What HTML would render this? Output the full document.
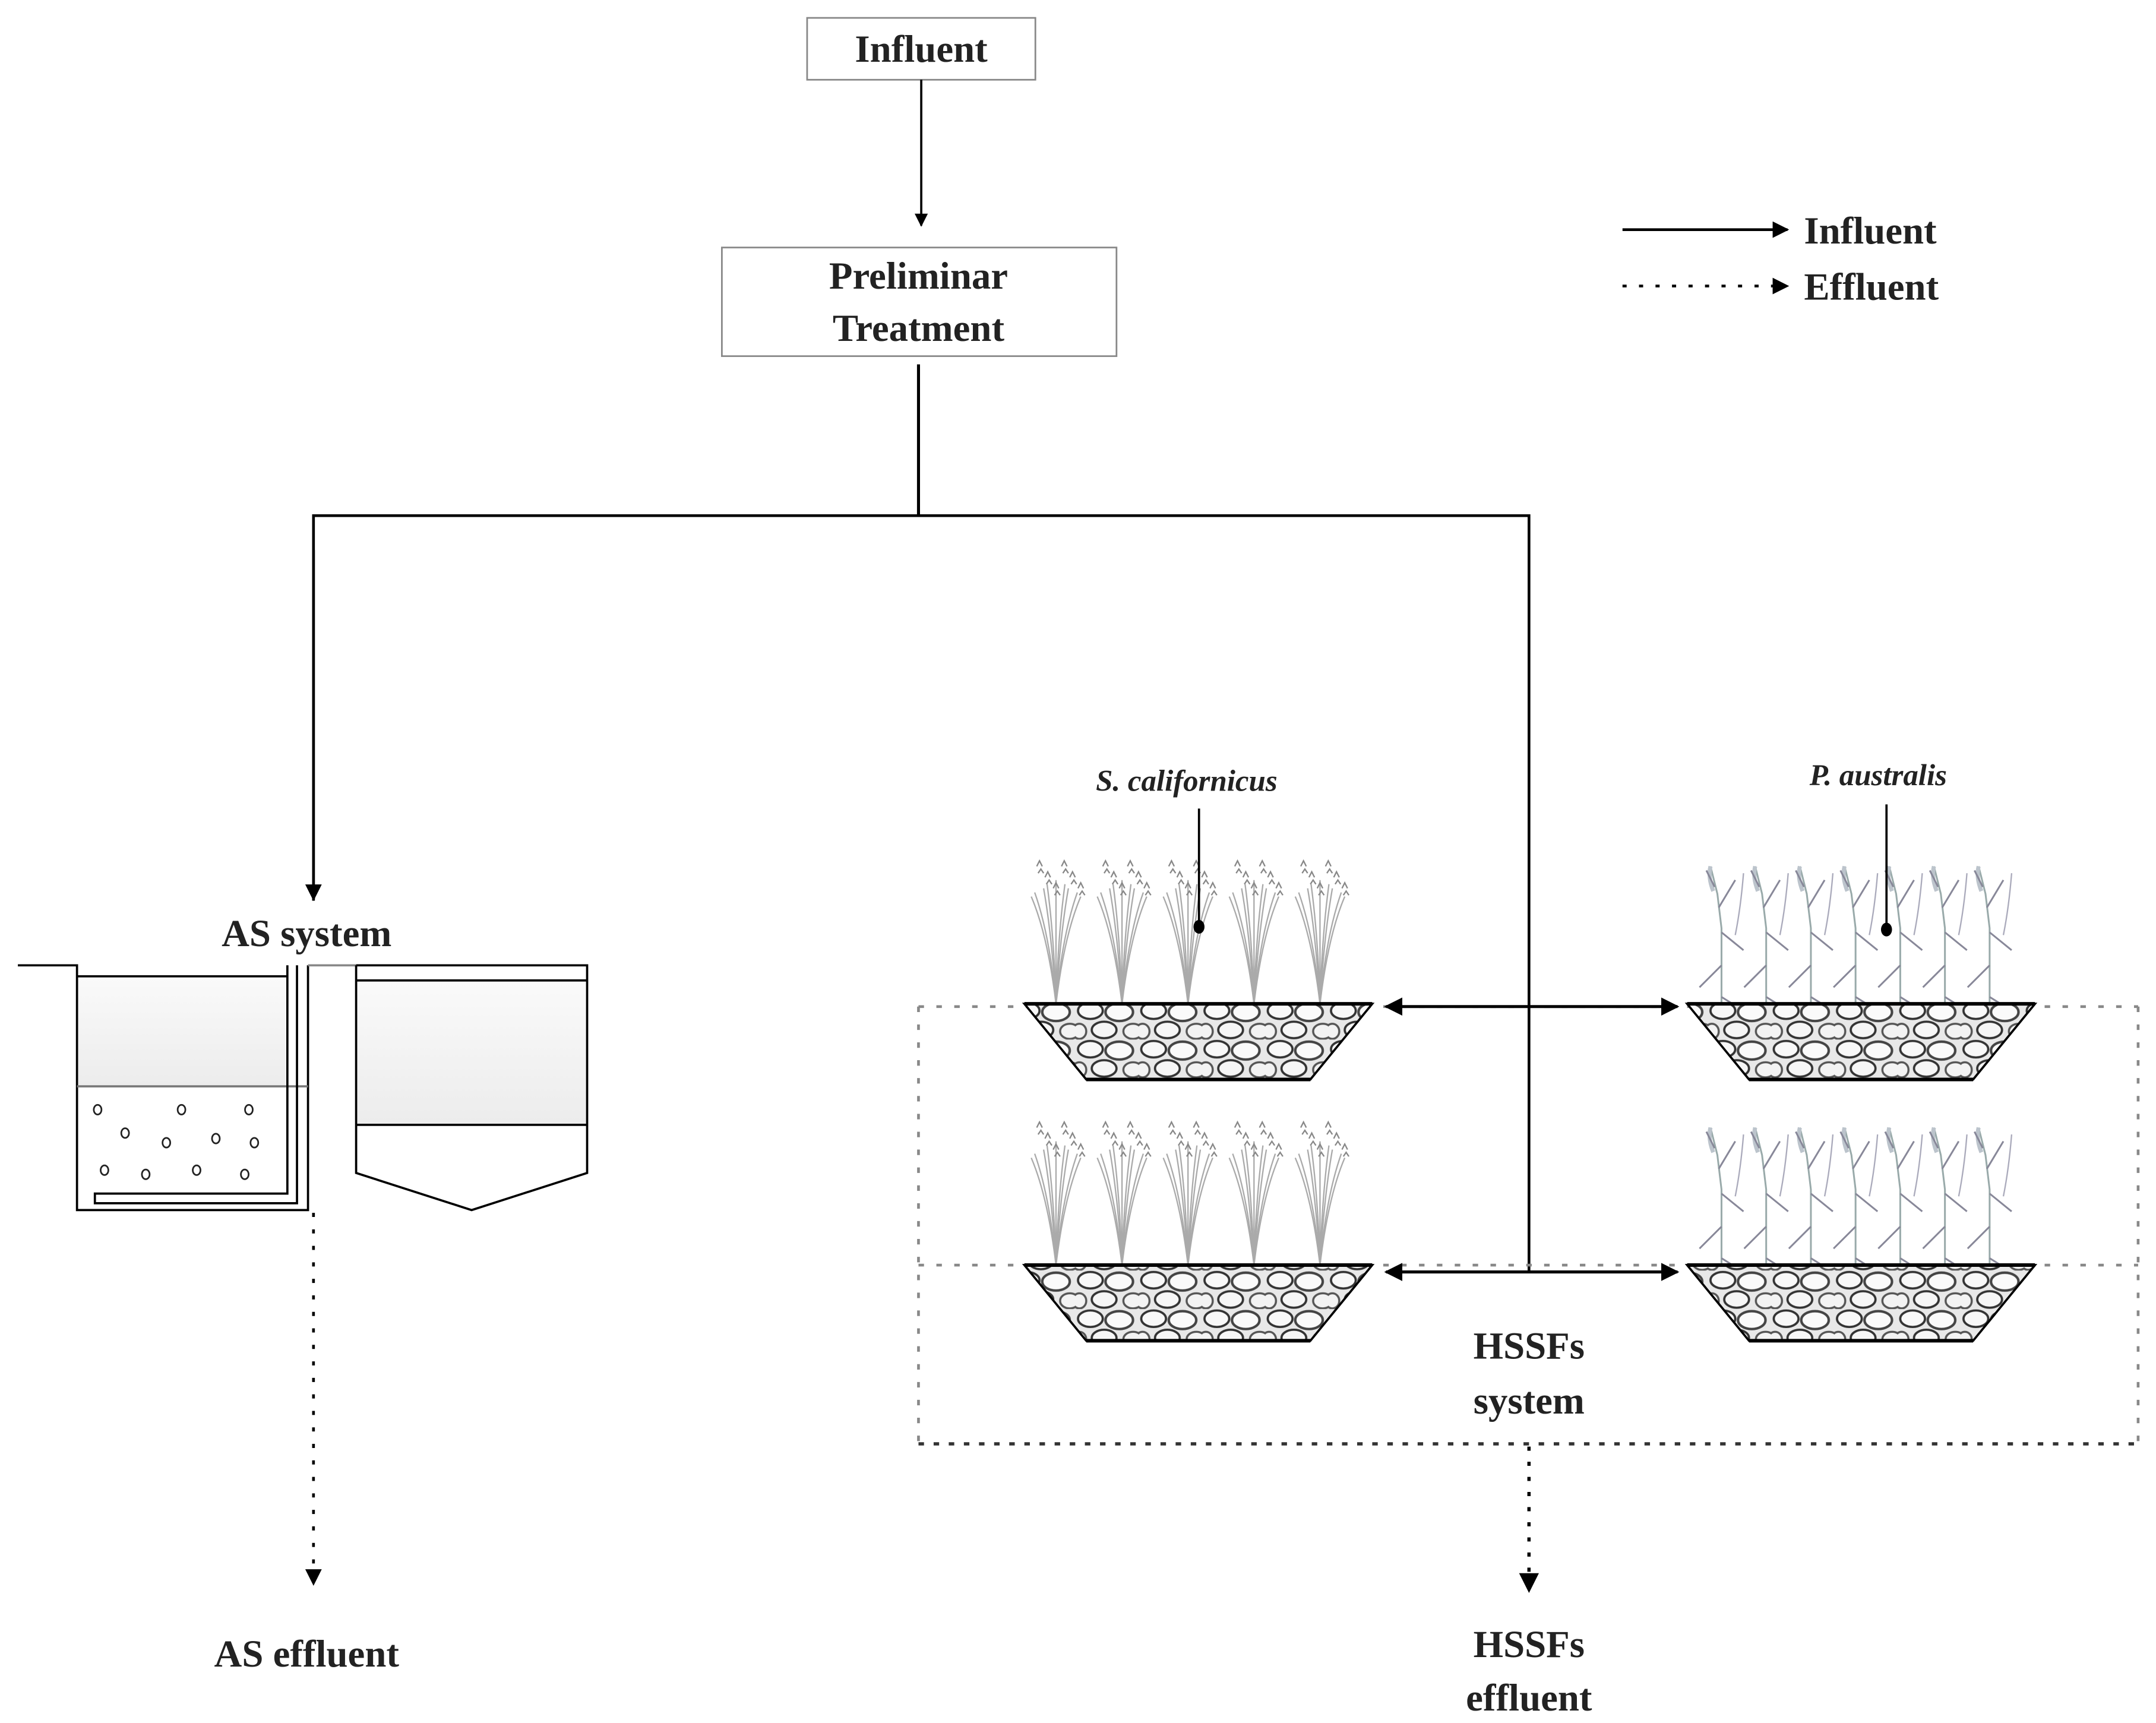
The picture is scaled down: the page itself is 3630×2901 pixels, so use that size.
<!DOCTYPE html>
<html><head><meta charset="utf-8"><style>
html,body{margin:0;padding:0;background:#fff;}
svg{display:block;}
text{font-family:"Liberation Serif",serif;font-weight:bold;fill:#222;}
</style></head><body>
<svg id="s" width="3630" height="2901" viewBox="0 0 1568 1253" preserveAspectRatio="none" xmlns="http://www.w3.org/2000/svg">
<defs>
<marker id="ah" viewBox="0 0 10 10" refX="9" refY="5" markerWidth="6" markerHeight="6" orient="auto-start-reverse"><path d="M0,0 L10,5 L0,10 z" fill="#000"/></marker>
<linearGradient id="wg" x1="0" y1="0" x2="0" y2="1"><stop offset="0" stop-color="#fafafa"/><stop offset="1" stop-color="#ececec"/></linearGradient>
<pattern id="stone" width="46" height="28" patternUnits="userSpaceOnUse">
<rect width="46" height="28" fill="#e8e8e8"/>
<ellipse cx="11" cy="7" rx="9" ry="6" fill="#f8f8f8" stroke="#333" stroke-width="1.6"/>
<ellipse cx="32" cy="8" rx="10" ry="6.5" fill="#fafafa" stroke="#444" stroke-width="1.8"/>
<ellipse cx="21" cy="21" rx="9" ry="6" fill="#f6f6f6" stroke="#333" stroke-width="1.6"/>
<ellipse cx="42" cy="22" rx="7" ry="5.5" fill="#f3f3f3" stroke="#555" stroke-width="1.5"/>
<ellipse cx="3" cy="22" rx="5" ry="5.5" fill="#f3f3f3" stroke="#555" stroke-width="1.5"/>
</pattern>
</defs>

<!-- Influent box -->
<rect x="587" y="13" width="166" height="45" fill="#fff" stroke="#888" stroke-width="1.2"/>
<text x="670" y="45" font-size="28" text-anchor="middle">Influent</text>
<line x1="670" y1="58" x2="670" y2="164" stroke="#000" stroke-width="1.6" marker-end="url(#ah)"/>
<rect x="525" y="180" width="287" height="79" fill="#fff" stroke="#888" stroke-width="1.2"/>
<text x="668" y="210" font-size="28" text-anchor="middle">Preliminar</text>
<text x="668" y="248" font-size="28" text-anchor="middle">Treatment</text>

<!-- tree -->
<line x1="668" y1="265" x2="668" y2="375" stroke="#000" stroke-width="2.2"/>
<polyline points="228,655 228,375 1112,375 1112,925" fill="none" stroke="#000" stroke-width="2"/>
<line x1="228" y1="400" x2="228" y2="654" stroke="#000" stroke-width="2" marker-end="url(#ah)"/>

<!-- Legend -->
<line x1="1180" y1="167" x2="1300" y2="167" stroke="#000" stroke-width="2" marker-end="url(#ah)"/>
<text x="1312" y="177" font-size="28">Influent</text>
<line x1="1180" y1="208" x2="1300" y2="208" stroke="#000" stroke-width="2" stroke-dasharray="3,9" marker-end="url(#ah)"/>
<text x="1312" y="218" font-size="28">Effluent</text>

<!-- AS system -->
<text x="223" y="688" font-size="28" text-anchor="middle">AS system</text>
<g stroke="#000" stroke-width="1.6" fill="none">
<polyline points="13,702 56,702 56,880 224,880 224,702"/>
<rect x="57" y="710" width="151" height="80" fill="url(#wg)" stroke="none"/>
<line x1="56" y1="710" x2="209" y2="710"/>
<line x1="56" y1="790" x2="224" y2="790" stroke="#777"/>
<polyline points="209,702 209,868 69,868 69,875 216,875 216,702"/>
<line x1="224" y1="702" x2="259" y2="702" stroke="#888"/>
<polyline points="259,702 427,702 427,853 343,880 259,853 259,702"/>
<rect x="260" y="713" width="166" height="105" fill="url(#wg)" stroke="none"/>
<line x1="259" y1="713" x2="427" y2="713"/>
<line x1="259" y1="818" x2="427" y2="818"/>
</g>
<g fill="#fff" stroke="#222" stroke-width="1.2">
<ellipse cx="71" cy="807" rx="2.8" ry="3.5"/><ellipse cx="132" cy="807" rx="2.8" ry="3.5"/><ellipse cx="181" cy="807" rx="2.8" ry="3.5"/>
<ellipse cx="91" cy="824" rx="2.8" ry="3.5"/><ellipse cx="121" cy="831" rx="2.8" ry="3.5"/><ellipse cx="157" cy="828" rx="2.8" ry="3.5"/><ellipse cx="185" cy="831" rx="2.8" ry="3.5"/>
<ellipse cx="76" cy="851" rx="2.8" ry="3.5"/><ellipse cx="106" cy="854" rx="2.8" ry="3.5"/><ellipse cx="143" cy="851" rx="2.8" ry="3.5"/><ellipse cx="178" cy="854" rx="2.8" ry="3.5"/>
</g>
<line x1="228" y1="882" x2="228" y2="1152" stroke="#000" stroke-width="2" stroke-dasharray="3,9" marker-end="url(#ah)"/>
<text x="223" y="1212" font-size="28" text-anchor="middle">AS effluent</text>

<!-- HSSF dotted frame -->
<g stroke="#888" stroke-width="2" stroke-dasharray="4,9" fill="none">
<line x1="668" y1="732" x2="1555" y2="732"/>
<line x1="668" y1="920" x2="1555" y2="920"/>
<line x1="668" y1="732" x2="668" y2="1050"/>
<line x1="1555" y1="732" x2="1555" y2="1050"/>
</g>
<line x1="668" y1="1050" x2="1555" y2="1050" stroke="#333" stroke-width="2.4" stroke-dasharray="4,7"/>

<g id="plants"></g>

<!-- double arrows -->
<line x1="1008" y1="732" x2="1220" y2="732" stroke="#000" stroke-width="2.2" marker-start="url(#ah)" marker-end="url(#ah)"/>
<line x1="1008" y1="925" x2="1220" y2="925" stroke="#000" stroke-width="2.2" marker-start="url(#ah)" marker-end="url(#ah)"/>

<text x="863" y="575" font-size="22" font-style="italic" text-anchor="middle">S. californicus</text>
<line x1="872" y1="588" x2="872" y2="672" stroke="#000" stroke-width="1.6"/>
<ellipse cx="872" cy="674" rx="4" ry="5" fill="#000"/>
<text x="1366" y="571" font-size="22" font-style="italic" text-anchor="middle">P. australis</text>
<line x1="1372" y1="585" x2="1372" y2="674" stroke="#000" stroke-width="1.6"/>
<ellipse cx="1372" cy="676" rx="4" ry="5" fill="#000"/>

<text x="1112" y="988" font-size="28" text-anchor="middle">HSSFs</text>
<text x="1112" y="1028" font-size="28" text-anchor="middle">system</text>
<line x1="1112" y1="1052" x2="1112" y2="1157" stroke="#000" stroke-width="2.4" stroke-dasharray="3,8" marker-end="url(#ah)"/>
<text x="1112" y="1205" font-size="28" text-anchor="middle">HSSFs</text>
<text x="1112" y="1244" font-size="28" text-anchor="middle">effluent</text>
</svg>
<script>
var NS="http://www.w3.org/2000/svg",g=document.getElementById("plants");
function el(t,a){var e=document.createElementNS(NS,t);for(var k in a)e.setAttribute(k,a[k]);g.appendChild(e);return e;}
function bed(x,y){
 el("polygon",{points:(x)+","+y+" "+(x+253)+","+y+" "+(x+208)+","+(y+55)+" "+(x+45)+","+(y+55),fill:"url(#stone)",stroke:"#000","stroke-width":"1.6"});
 el("line",{x1:x,y1:y,x2:x+253,y2:y,stroke:"#000","stroke-width":"2.6"});
 el("line",{x1:x+45,y1:y+55,x2:x+208,y2:y+55,stroke:"#000","stroke-width":"2.6"});
}
function scirpus(x0,y){
 for(var i=0;i<5;i++){var cx=x0+23+i*48;
  for(var j=-4;j<=4;j++){var tx=cx+j*4.5+(j%2)*2,ty=y-90+Math.abs(j)*3;
   el("path",{d:"M"+cx+","+y+" Q"+(cx+j*1.5)+","+(y-50)+" "+tx+","+ty,fill:"none",stroke:"#aaa","stroke-width":"1"});}
  for(var k=0;k<6;k++){var fx=cx-14+k*6,fy=y-100+(k%3)*8;
   el("path",{d:"M"+fx+","+fy+" l2,-4 l2,4 M"+(fx+1)+","+(fy+5)+" l2,-3 l2,3",fill:"none",stroke:"#888","stroke-width":"1"});}
 }
}
function phrag(x0,y){
 for(var i=0;i<7;i++){var cx=x0+25+i*32.5;
  el("path",{d:"M"+cx+","+y+" L"+cx+","+(y-55)+" L"+(cx-3)+","+(y-80)+" L"+(cx-8)+","+(y-100),fill:"none",stroke:"#9aa","stroke-width":"1.3"});
  el("path",{d:"M"+(cx-8)+","+(y-100)+" q-2,8 2,18",fill:"none",stroke:"#bcc4cc","stroke-width":"3"});
  el("path",{d:"M"+cx+","+(y-5)+" l16,10 M"+cx+","+(y-28)+" l-16,16 M"+cx+","+(y-52)+" l16,13 M"+(cx-2)+","+(y-70)+" l12,-20 M"+(cx-5)+","+(y-85)+" l-6,-12",fill:"none",stroke:"#889","stroke-width":"1.3"});
  el("path",{d:"M"+(cx+10)+","+(y-50)+" q4,-20 6,-45",fill:"none",stroke:"#aab","stroke-width":"1"});
 }
}
scirpus(745,730);scirpus(745,920);phrag(1227,730);phrag(1227,920);
bed(745,730);bed(745,920);bed(1227,730);bed(1227,920);
</script>
</body></html>
